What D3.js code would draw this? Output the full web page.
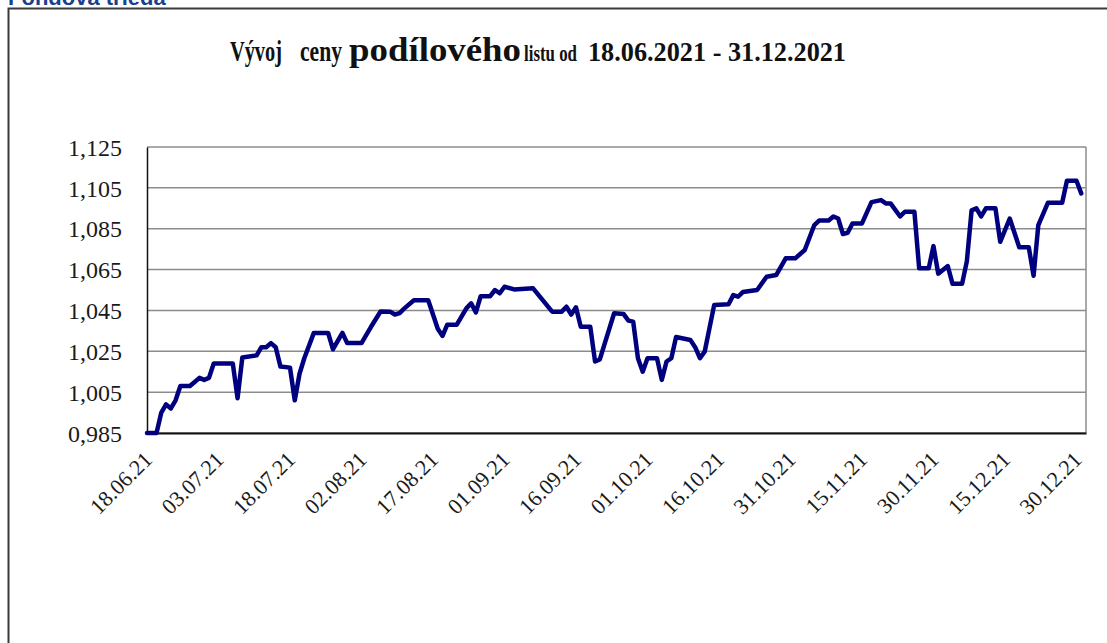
<!DOCTYPE html>
<html lang="sk">
<head>
  <meta charset="UTF-8">
  <title>Vývoj ceny podílového listu</title>
  <script src="https://d3js.org/d3.v7.min.js"></script>
  <style>
    body {
      margin: 0;
      background-color: #ffffff;
      overflow: hidden;
    }
    .tick-label {
      font-family: "Liberation Serif", "Times New Roman", serif;
      fill: #1a1a1a;
    }
  </style>
</head>
<body>
  <div id="chart"></div>

  <script>
    // Chart data
    const dates = [
      '18.06.21','20.06.21','21.06.21','22.06.21','23.06.21','24.06.21','25.06.21','27.06.21','28.06.21','29.06.21',
      '30.06.21','01.07.21','02.07.21','06.07.21','07.07.21','08.07.21','11.07.21','12.07.21','13.07.21','14.07.21',
      '15.07.21','16.07.21','18.07.21','19.07.21','20.07.21','21.07.21','23.07.21','26.07.21','27.07.21','29.07.21',
      '30.07.21','02.08.21','04.08.21','06.08.21','08.08.21','09.08.21','10.08.21','11.08.21','13.08.21','16.08.21',
      '18.08.21','19.08.21','20.08.21','22.08.21','24.08.21','25.08.21','26.08.21','27.08.21','29.08.21','30.08.21',
      '31.08.21','01.09.21','03.09.21','07.09.21','11.09.21','13.09.21','14.09.21','15.09.21','16.09.21','17.09.21',
      '19.09.21','20.09.21','21.09.21','24.09.21','26.09.21','27.09.21','28.09.21','29.09.21','30.09.21','01.10.21',
      '03.10.21','04.10.21','05.10.21','06.10.21','07.10.21','10.10.21','11.10.21','12.10.21','13.10.21','15.10.21',
      '18.10.21','19.10.21','20.10.21','21.10.21','24.10.21','26.10.21','28.10.21','30.10.21','01.11.21','03.11.21',
      '05.11.21','06.11.21','08.11.21','09.11.21','10.11.21','11.11.21','12.11.21','13.11.21','15.11.21','17.11.21',
      '19.11.21','20.11.21','21.11.21','23.11.21','24.11.21','26.11.21','27.11.21','29.11.21','30.11.21','01.12.21',
      '03.12.21','04.12.21','06.12.21','07.12.21','08.12.21','09.12.21','10.12.21','11.12.21','13.12.21','14.12.21',
      '16.12.21','18.12.21','20.12.21','21.12.21','22.12.21','24.12.21','27.12.21','28.12.21','30.12.21','31.12.21'
    ];

    const prices = [
      0.985, 0.985, 0.995, 0.999, 0.997, 1.001, 1.008, 1.008, 1.010, 1.012,
      1.011, 1.012, 1.019, 1.019, 1.002, 1.022, 1.023, 1.027, 1.027, 1.029,
      1.027, 1.0175, 1.017, 1.001, 1.014, 1.0216, 1.034, 1.034, 1.026, 1.034,
      1.029, 1.029, 1.037, 1.0445, 1.0444, 1.043, 1.0437, 1.046, 1.050, 1.050,
      1.036, 1.0325, 1.038, 1.038, 1.046, 1.0485, 1.044, 1.052, 1.052, 1.055,
      1.0534, 1.0566, 1.0553, 1.0558, 1.0444, 1.0444, 1.0468, 1.043, 1.0465, 1.037,
      1.037, 1.020, 1.021, 1.0436, 1.0432, 1.040, 1.0395, 1.0216, 1.015, 1.0216,
      1.0216, 1.011, 1.020, 1.0216, 1.032, 1.0305, 1.027, 1.0216, 1.0248, 1.0477,
      1.048, 1.0525, 1.0517, 1.054, 1.055, 1.0615, 1.0623, 1.0705, 1.0705, 1.0746,
      1.0868, 1.089, 1.089, 1.091, 1.090, 1.0824, 1.083, 1.0876, 1.0876, 1.098,
      1.099, 1.0974, 1.0974, 1.091, 1.0933, 1.0933, 1.0656, 1.0656, 1.0765, 1.063,
      1.0667, 1.058, 1.058, 1.069, 1.094, 1.095, 1.091, 1.095, 1.095, 1.0786,
      1.090, 1.0759, 1.0759, 1.062, 1.0868, 1.0977, 1.0977, 1.1085, 1.1085, 1.1023
    ];

    const xTickLabels = [
      '18.06.21','03.07.21','18.07.21','02.08.21','17.08.21','01.09.21','16.09.21',
      '01.10.21','16.10.21','31.10.21','15.11.21','30.11.21','15.12.21','30.12.21'
    ];

    const yTickValues = [0.985, 1.005, 1.025, 1.045, 1.065, 1.085, 1.105, 1.125];

    // title pieces: the original mixes sizes within one line
    const titleParts = ['Vývoj', 'ceny', 'podílového', 'listu od', '18.06.2021 - 31.12.2021'];

    const parseDate = d3.timeParse('%d.%m.%y');
    const data = dates.map((d, i) => ({ date: parseDate(d), value: prices[i] }));

    // Set up dimensions and margins
    const W = 1107, H = 643;
    const margin = { top: 147, left: 147 };
    const width = 939;
    const height = 286;

    const svg = d3.select('#chart')
      .append('svg')
      .attr('width', W)
      .attr('height', H);

    // Section heading (cut off at the top edge)
    svg.append('text')
      .attr('x', 8)
      .attr('y', 5)
      .attr('font-family', 'Arial, "Liberation Sans", sans-serif')
      .attr('font-weight', 'bold')
      .attr('font-size', 22)
      .attr('fill', '#1b3f8f')
      .text('Fondová trieda');

    // Outer frame
    svg.append('rect')
      .attr('x', 8.5)
      .attr('y', 8.5)
      .attr('width', W + 20)
      .attr('height', H + 20)
      .attr('fill', 'none')
      .attr('stroke', '#3a3a3a')
      .attr('stroke-width', 2);

    // Title: each piece placed and squeezed to the width seen in the original
    const titleLayout = [
      { x: 230, w: 52, size: 29 },
      { x: 300, w: 42, size: 29 },
      { x: 349, w: 172, size: 34 },
      { x: 524, w: 53, size: 23 },
      { x: 588, w: 258, size: 27 }
    ];
    const title = svg.append('text')
      .attr('y', 61)
      .attr('font-family', '"Liberation Serif", "Times New Roman", serif')
      .attr('font-weight', 'bold')
      .attr('fill', '#111');
    title.selectAll('tspan')
      .data(titleParts)
      .enter()
      .append('tspan')
      .attr('x', (d, i) => titleLayout[i].x)
      .attr('font-size', (d, i) => titleLayout[i].size)
      .attr('textLength', (d, i) => titleLayout[i].w)
      .attr('lengthAdjust', 'spacingAndGlyphs')
      .text(d => d);

    // Scales
    const xScale = d3.scaleTime()
      .domain([parseDate('18.06.21'), parseDate('01.01.22')])
      .range([0, width]);

    const yScale = d3.scaleLinear()
      .domain([0.985, 1.125])
      .range([height, 0]);

    const g = svg.append('g')
      .attr('transform', `translate(${margin.left}, ${margin.top})`);

    // Grid lines
    g.selectAll('.grid')
      .data(yTickValues)
      .enter()
      .append('line')
      .attr('x1', 0)
      .attr('x2', width)
      .attr('y1', d => yScale(d))
      .attr('y2', d => yScale(d))
      .attr('stroke', '#8c8c8c')
      .attr('stroke-width', 1.5);

    // Right border
    g.append('line')
      .attr('x1', width).attr('x2', width)
      .attr('y1', 0).attr('y2', height)
      .attr('stroke', '#8c8c8c')
      .attr('stroke-width', 1.5);

    // Y axis
    const fmt = d3.format('.3f');
    const yAxis = d3.axisLeft(yScale)
      .tickValues(yTickValues)
      .tickSize(0)
      .tickPadding(25)
      .tickFormat(d => fmt(d).replace('.', ','));

    const yG = g.append('g').call(yAxis);
    yG.select('.domain').attr('stroke', '#111').attr('stroke-width', 1.5);
    yG.selectAll('text')
      .attr('class', 'tick-label')
      .attr('font-size', 24)
      .attr('dy', '0.34em');

    // X axis
    const xAxis = d3.axisBottom(xScale)
      .tickValues(xTickLabels.map(parseDate))
      .tickSize(0)
      .tickFormat(d3.timeFormat('%d.%m.%y'));

    const xG = g.append('g')
      .attr('transform', `translate(0, ${height})`)
      .call(xAxis);
    xG.select('.domain').attr('stroke', '#111').attr('stroke-width', 2);
    xG.selectAll('text')
      .attr('class', 'tick-label')
      .attr('font-size', 22)
      .attr('text-anchor', 'end')
      .attr('dy', 0)
      .attr('y', 0)
      .attr('transform', 'translate(6, 28) rotate(-45)');

    // Price line
    const line = d3.line()
      .x(d => xScale(d.date))
      .y(d => yScale(d.value));

    g.append('path')
      .datum(data)
      .attr('d', line)
      .attr('fill', 'none')
      .attr('stroke', '#00007f')
      .attr('stroke-width', 4.5)
      .attr('stroke-linejoin', 'round')
      .attr('stroke-linecap', 'round');
  </script>
</body>
</html>
